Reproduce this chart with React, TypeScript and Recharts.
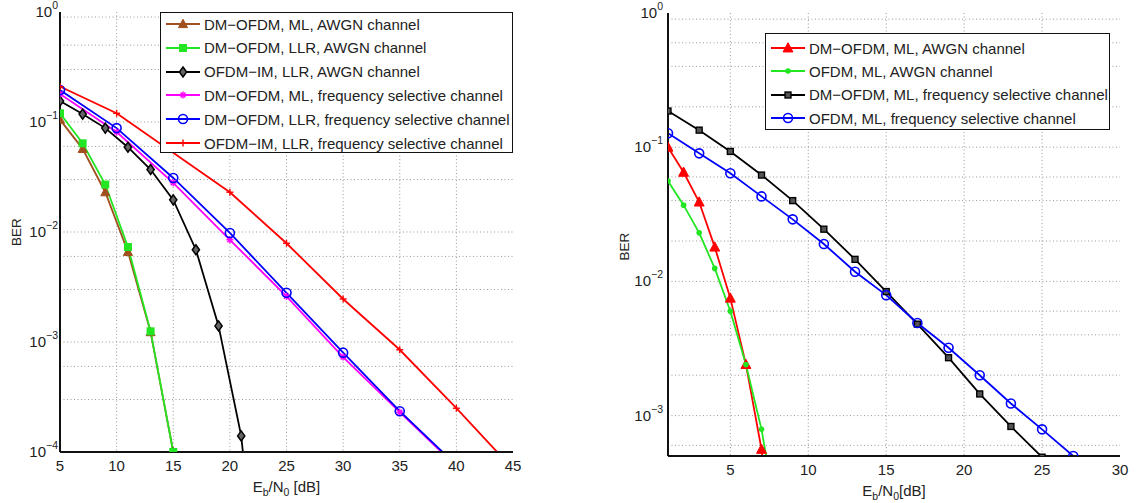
import React from 'react';
import { LineChart, Line, XAxis, YAxis, CartesianGrid, Legend } from 'recharts';

// ---- left panel data ----
const snrAwgnLeft = [5, 7, 9, 11, 13, 15];
const berDmMlAwgn = [0.105, 0.057, 0.023, 0.0066, 0.00123, 0.0001];
const berDmLlrAwgn = [0.12, 0.064, 0.027, 0.0073, 0.00125, 0.0001];

const snrImAwgn = [5, 7, 9, 11, 13, 15, 17, 19, 21, 23];
const berImLlrAwgn = [0.155, 0.118, 0.088, 0.059, 0.037, 0.0196, 0.0069, 0.0014, 0.00014, 0.0000015];

const snrFreqLeft = [5, 10, 15, 20, 25, 30, 35, 40];
const berDmMlFreq = [0.18, 0.081, 0.028, 0.0085, 0.0026, 0.00073, 0.00023, 0.000074];
const berDmLlrFreq = [0.195, 0.088, 0.031, 0.0098, 0.0028, 0.0008, 0.000235, 0.000076];

const snrImFreq = [5, 10, 20, 25, 30, 35, 40, 45];
const berImLlrFreq = [0.21, 0.12, 0.023, 0.0079, 0.00246, 0.00085, 0.00025, 0.00007];

// ---- right panel data ----
const snrAwgnRight = [1, 2, 3, 4, 5, 6, 7, 8];
const berDmOfdmAwgn = [0.1, 0.065, 0.039, 0.018, 0.0075, 0.0024, 0.00056, 0.00006];
const berOfdmAwgn = [0.056, 0.037, 0.023, 0.0125, 0.006, 0.0024, 0.00079, 0.00017];

const snrDmFreqRight = [1, 3, 5, 7, 9, 11, 13, 15, 17, 19, 21, 23, 25];
const berDmOfdmFreq = [0.186, 0.134, 0.093, 0.062, 0.04, 0.0245, 0.0146, 0.0084, 0.0048, 0.0027, 0.00145, 0.00083, 0.00049];

const snrOfdmFreqRight = [1, 3, 5, 7, 9, 11, 13, 15, 17, 19, 21, 23, 25, 27];
const berOfdmFreq = [0.127, 0.09, 0.064, 0.043, 0.029, 0.019, 0.0118, 0.0079, 0.0049, 0.0032, 0.002, 0.00123, 0.00079, 0.0005];

const leftXTicks = [5, 10, 15, 20, 25, 30, 35, 40, 45];
const rightXTicks = [5, 10, 15, 20, 25, 30];
const leftYTicks = [1e-4, 1e-3, 1e-2, 1e-1, 1];
const rightYTicks = [1e-3, 1e-2, 1e-1, 1];

const FONT = '"Liberation Sans", Arial, Helvetica, sans-serif';
const TEXT = '#222';

const toPoints = (xs: number[], ys: number[]) => xs.map((x, i) => ({ x, ber: ys[i] }));

// minor grid values for a log axis between lo and 1
const logGrid = (lo: number) => {
  const out: number[] = [];
  for (let e = -6; e < 0; e++) {
    for (let m = 1; m <= 9; m++) {
      const v = m * Math.pow(10, e);
      if (v > lo * 1.0001 && v < 0.9999) out.push(v);
    }
  }
  return out;
};

type Marker = 'triangle' | 'square' | 'diamond' | 'star' | 'circle' | 'plus' | 'dot';

const markerShape = (kind: Marker, cx: number, cy: number, color: string, s = 1) => {
  switch (kind) {
    case 'triangle':
      return <polygon points={`${cx},${cy - 4.8 * s} ${cx - 4.5 * s},${cy + 3.6 * s} ${cx + 4.5 * s},${cy + 3.6 * s}`} fill={color} stroke={color} strokeWidth={1} />;
    case 'square':
      return <rect x={cx - 3.3 * s} y={cy - 3.3 * s} width={6.6 * s} height={6.6 * s} fill={color === '#000000' ? '#555' : color} stroke={color} strokeWidth={1.4} />;
    case 'diamond':
      return <polygon points={`${cx},${cy - 5} ${cx + 3.6},${cy} ${cx},${cy + 5} ${cx - 3.6},${cy}`} fill="#666" stroke={color} strokeWidth={1.5} />;
    case 'star':
      return (
        <g stroke={color} strokeWidth={1.4}>
          <line x1={cx - 3.5} y1={cy} x2={cx + 3.5} y2={cy} />
          <line x1={cx} y1={cy - 3.5} x2={cx} y2={cy + 3.5} />
          <line x1={cx - 2.5} y1={cy - 2.5} x2={cx + 2.5} y2={cy + 2.5} />
          <line x1={cx - 2.5} y1={cy + 2.5} x2={cx + 2.5} y2={cy - 2.5} />
        </g>
      );
    case 'circle':
      return <circle cx={cx} cy={cy} r={4.5} fill="none" stroke={color} strokeWidth={1.6} />;
    case 'plus':
      return (
        <g stroke={color} strokeWidth={1.4}>
          <line x1={cx - 3.5} y1={cy} x2={cx + 3.5} y2={cy} />
          <line x1={cx} y1={cy - 3.5} x2={cx} y2={cy + 3.5} />
        </g>
      );
    case 'dot':
      return <circle cx={cx} cy={cy} r={2.8} fill={color} stroke="none" />;
    default:
      return null;
  }
};

const makeDot = (kind: Marker, color: string, s = 1) => (props: any) => {
  const { cx, cy, index } = props;
  if (cx == null || cy == null) return <g key={`d-${index}`} />;
  return <g key={`d-${kind}-${index}`}>{markerShape(kind, cx, cy, color, s)}</g>;
};

type SeriesInfo = { name: string; color: string; marker: Marker; s?: number };

const leftSeries: SeriesInfo[] = [
  { name: 'DM\u2212OFDM, ML, AWGN channel', color: '#a0501e', marker: 'triangle' },
  { name: 'DM\u2212OFDM, LLR, AWGN channel', color: '#22e622', marker: 'square' },
  { name: 'OFDM\u2212IM, LLR, AWGN channel', color: '#000000', marker: 'diamond' },
  { name: 'DM\u2212OFDM, ML, frequency selective channel', color: '#ff00ff', marker: 'star' },
  { name: 'DM\u2212OFDM, LLR, frequency selective channel', color: '#0000ff', marker: 'circle' },
  { name: 'OFDM\u2212IM, LLR, frequency selective channel', color: '#ff0000', marker: 'plus' },
];

const rightSeries: SeriesInfo[] = [
  { name: 'DM\u2212OFDM, ML, AWGN channel', color: '#ff0000', marker: 'triangle', s: 1.1 },
  { name: 'OFDM, ML, AWGN channel', color: '#22e622', marker: 'dot' },
  { name: 'DM\u2212OFDM, ML, frequency selective channel', color: '#000000', marker: 'square', s: 0.9 },
  { name: 'OFDM, ML, frequency selective channel', color: '#0000ff', marker: 'circle' },
];

const legendBox = (items: SeriesInfo[], rowGap: number, firstRow: number) => () => (
  <div
    style={{
      position: 'relative',
      width: '100%',
      height: '100%',
      boxSizing: 'border-box',
      border: '1.5px solid #111',
      background: '#fff',
      fontFamily: FONT,
      fontSize: 15,
      color: TEXT,
    }}
  >
    {items.map((it, i) => (
      <div
        key={it.name}
        style={{ position: 'absolute', left: 4, top: firstRow + i * rowGap - 10, height: 20, display: 'flex', alignItems: 'center', whiteSpace: 'nowrap' }}
      >
        <svg width={36} height={20} style={{ marginRight: 3 }}>
          <line x1={1} y1={10} x2={35} y2={10} stroke={it.color} strokeWidth={1.8} />
          {markerShape(it.marker, 18, 10, it.color, it.s || 1)}
        </svg>
        <span>{it.name}</span>
      </div>
    ))}
  </div>
);

const YTick = (props: any) => {
  const { x, y, payload } = props;
  const exp = Math.round(Math.log10(payload.value));
  const expText = exp === 0 ? '0' : `\u2212${-exp}`;
  return (
    <text x={x} y={y + 5} textAnchor="end" fontSize={15} fill={TEXT} fontFamily={FONT}>
      <tspan>10</tspan>
      <tspan dy={-8} fontSize={10.5}>{expText}</tspan>
    </text>
  );
};

const XTitle = (props: any) => {
  const { viewBox, gap } = props;
  const { x, y, width } = viewBox;
  return (
    <text x={x + width / 2} y={y + 40} textAnchor="middle" fontSize={15} fill={TEXT} fontFamily={FONT}>
      <tspan>E</tspan>
      <tspan fontSize={10.5} dy={4}>b</tspan>
      <tspan dy={-4}>/N</tspan>
      <tspan fontSize={10.5} dy={4}>0</tspan>
      <tspan dy={-4}>{gap ? ' [dB]' : '[dB]'}</tspan>
    </text>
  );
};

const YTitle = (props: any) => {
  const { viewBox, shift } = props;
  const { x, y, width, height } = viewBox;
  const cx = x + width - 44;
  const cy = y + height / 2 + (shift || 0);
  return (
    <text x={cx} y={cy} transform={`rotate(-90 ${cx} ${cy})`} textAnchor="middle" dominantBaseline="central" fontSize={13.5} fill={TEXT} fontFamily={FONT}>
      BER
    </text>
  );
};

const noTick = () => null;

const grayGrid = { stroke: '#999', strokeDasharray: '1 2.5' };
const xTickStyle = { fill: TEXT, fontSize: 15, fontFamily: FONT };

const LeftPanel = () => {
  const data = [
    toPoints(snrAwgnLeft, berDmMlAwgn),
    toPoints(snrAwgnLeft, berDmLlrAwgn),
    toPoints(snrImAwgn, berImLlrAwgn),
    toPoints(snrFreqLeft, berDmMlFreq),
    toPoints(snrFreqLeft, berDmLlrFreq),
    toPoints(snrImFreq, berImLlrFreq),
  ];
  const minor = logGrid(1e-4);
  return (
    <LineChart width={530} height={503} margin={{ top: 12, right: 17, left: 10, bottom: 21 }}>
      <CartesianGrid horizontalValues={minor} verticalValues={[10, 15, 20, 25, 30, 35, 40]} {...grayGrid} />
      <XAxis
        dataKey="x"
        type="number"
        domain={[5, 45]}
        ticks={leftXTicks}
        allowDataOverflow
        axisLine={{ stroke: '#111', strokeWidth: 2 }}
        tickLine={false}
        tickSize={6}
        tickMargin={2}
        tick={xTickStyle}
        height={30}
        label={<XTitle gap />}
      />
      <XAxis xAxisId="top" orientation="top" type="number" domain={[5, 45]} ticks={leftXTicks} mirror height={0} tickSize={4} tick={noTick} axisLine={{ stroke: '#111', strokeWidth: 2 }} tickLine={{ stroke: '#111' }} />
      <XAxis xAxisId="bm" orientation="bottom" type="number" domain={[5, 45]} ticks={leftXTicks} mirror height={0} tickSize={4} tick={noTick} axisLine={false} tickLine={{ stroke: '#111' }} />
      <YAxis
        type="number"
        scale="log"
        domain={[1e-4, 1]}
        allowDataOverflow
        ticks={leftYTicks}
        width={50}
        axisLine={{ stroke: '#111', strokeWidth: 2 }}
        tickLine={false}
        tickSize={0}
        tickMargin={2}
        tick={<YTick />}
        label={<YTitle />}
      />
      <YAxis yAxisId="lm" type="number" scale="log" domain={[1e-4, 1]} ticks={[...minor, ...leftYTicks]} mirror width={0} tickSize={3} tick={noTick} axisLine={false} tickLine={{ stroke: '#111' }} />
      <YAxis yAxisId="rm" orientation="right" type="number" scale="log" domain={[1e-4, 1]} ticks={[...minor, ...leftYTicks]} mirror width={0} tickSize={3} tick={noTick} axisLine={{ stroke: '#111', strokeWidth: 2 }} tickLine={{ stroke: '#111' }} />
      {leftSeries.map((s, i) => (
        <Line
          key={s.name}
          data={data[i]}
          dataKey="ber"
          name={s.name}
          type="linear"
          stroke={s.color}
          strokeWidth={1.8}
          dot={makeDot(s.marker, s.color, s.s || 1)}
          activeDot={false}
          isAnimationActive={false}
        />
      ))}
      <Legend
        layout="horizontal"
        verticalAlign="middle"
        align="center"
        width={353}
        height={141}
        wrapperStyle={{ left: 160, top: 12, width: 353, height: 141 }}
        content={legendBox(leftSeries, 23.8, 11)}
      />
    </LineChart>
  );
};

const RightPanel = () => {
  const data = [
    toPoints(snrAwgnRight, berDmOfdmAwgn),
    toPoints(snrAwgnRight, berOfdmAwgn),
    toPoints(snrDmFreqRight, berDmOfdmFreq),
    toPoints(snrOfdmFreqRight, berOfdmFreq),
  ];
  const minor = logGrid(5e-4);
  return (
    <LineChart width={579} height={503} margin={{ top: 13, right: 19, left: 58, bottom: 17 }}>
      <CartesianGrid horizontalValues={minor} verticalValues={[5, 10, 15, 20, 25]} {...grayGrid} />
      <XAxis
        dataKey="x"
        type="number"
        domain={[1, 30]}
        ticks={rightXTicks}
        allowDataOverflow
        axisLine={{ stroke: '#111', strokeWidth: 2 }}
        tickLine={false}
        tickSize={6}
        tickMargin={2}
        tick={xTickStyle}
        height={30}
        label={<XTitle />}
      />
      <XAxis xAxisId="top" orientation="top" type="number" domain={[1, 30]} ticks={rightXTicks} mirror height={0} tickSize={4} tick={noTick} axisLine={{ stroke: '#111', strokeWidth: 2 }} tickLine={{ stroke: '#111' }} />
      <XAxis xAxisId="bm" orientation="bottom" type="number" domain={[1, 30]} ticks={rightXTicks} mirror height={0} tickSize={4} tick={noTick} axisLine={false} tickLine={{ stroke: '#111' }} />
      <YAxis
        type="number"
        scale="log"
        domain={[5e-4, 1]}
        allowDataOverflow
        ticks={rightYTicks}
        width={50}
        axisLine={{ stroke: '#111', strokeWidth: 2 }}
        tickLine={false}
        tickSize={0}
        tickMargin={5}
        tick={<YTick />}
        label={<YTitle shift={12} />}
      />
      <YAxis yAxisId="lm" type="number" scale="log" domain={[5e-4, 1]} ticks={[...minor, ...rightYTicks]} mirror width={0} tickSize={3} tick={noTick} axisLine={false} tickLine={{ stroke: '#111' }} />
      <YAxis yAxisId="rm" orientation="right" type="number" scale="log" domain={[5e-4, 1]} ticks={[...minor, ...rightYTicks]} mirror width={0} tickSize={3} tick={noTick} axisLine={{ stroke: '#111', strokeWidth: 2 }} tickLine={{ stroke: '#111' }} />
      {rightSeries.map((s, i) => (
        <Line
          key={s.name}
          data={data[i]}
          dataKey="ber"
          name={s.name}
          type="linear"
          stroke={s.color}
          strokeWidth={1.8}
          dot={makeDot(s.marker, s.color, s.s || 1)}
          activeDot={false}
          isAnimationActive={false}
        />
      ))}
      <Legend
        layout="horizontal"
        verticalAlign="middle"
        align="center"
        width={345}
        height={97}
        wrapperStyle={{ left: 205, top: 33, width: 345, height: 97 }}
        content={legendBox(rightSeries, 23.4, 14)}
      />
    </LineChart>
  );
};

const App = () => (
  <div style={{ position: 'absolute', left: 0, top: 0, width: 1139, height: 503, background: '#fff', fontFamily: FONT }}>
    <div style={{ position: 'absolute', left: 0, top: 0 }}>
      <LeftPanel />
    </div>
    <div style={{ position: 'absolute', left: 560, top: 0 }}>
      <RightPanel />
    </div>
  </div>
);

export default App;
